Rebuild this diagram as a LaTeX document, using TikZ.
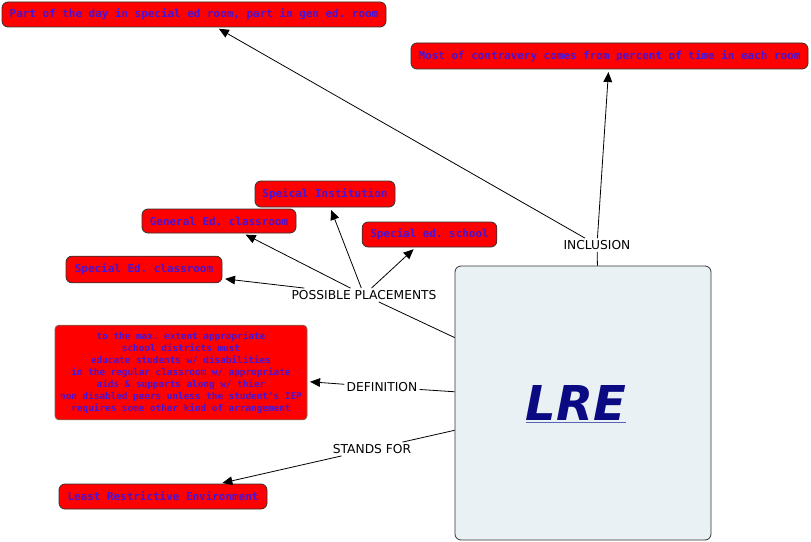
\documentclass[tikz,border=0pt]{standalone}
\usepackage{fontspec}
\setsansfont{DejaVu Sans}
\setmonofont{DejaVu Sans Mono}
\usepackage{xcolor}
\usetikzlibrary{shapes,arrows.meta,positioning,calc}
\definecolor{boxred}{RGB}{255,0,0}
\definecolor{boxtext}{RGB}{70,20,215}
\definecolor{lrefill}{RGB}{234,241,244}
\definecolor{lrenavy}{RGB}{10,10,130}
\definecolor{lreline}{RGB}{90,100,180}
\definecolor{defborder}{RGB}{130,100,80}

\begin{document}
\begin{tikzpicture}[x=0.75pt, y=-0.75pt,
    redbox/.style={rectangle, rounded corners=4.5pt, draw=black!80, fill=boxred, line width=0.6pt,
        text=boxtext, font=\fontsize{8.2}{10}\selectfont\ttfamily\bfseries, inner sep=2pt,
        minimum width=#1, minimum height=18.75pt},
    linklabel/.style={font=\fontsize{9.2}{11}\sffamily, inner sep=1.5pt},
    link/.style={line width=0.6pt},
    arrow/.style={line width=0.6pt, -{Triangle[length=7.5pt,width=6.5pt]}, shorten >=2pt},
]
    \useasboundingbox (0,0) rectangle (811,542);

    % concept
    \node[rectangle, rounded corners=4.5pt, draw=black!80, fill=lrefill, line width=0.6pt,
        minimum width=192pt, minimum height=205.5pt] (lre) at (583,403) {};
    \node[font=\fontsize{36}{40}\sffamily\bfseries\itshape] (lretxt) at (576,404)
        {{\color{lreline}\underline{\color{lrenavy}LRE}}};

    % leaves
    \node[redbox=288pt] (part) at (194,14.5) {Part of the day in special ed room, part in gen ed. room};
    \node[redbox=297.75pt, minimum height=19.5pt] (most) at (609.5,56) {Most of contravery comes from percent of time in each room};
    \node[redbox=105pt, minimum height=19.5pt] (inst) at (325,194) {Speical Institution};
    \node[redbox=115.5pt, minimum height=18pt] (gened) at (219,221) {General Ed. classroom};
    \node[redbox=101pt] (school) at (429.5,234.5) {Special ed. school};
    \node[redbox=117pt, minimum height=20pt] (seclass) at (144,269.5) {Special Ed. classroom};
    \node[redbox=189pt, minimum height=71pt, rounded corners=3pt, draw=defborder, align=center,
        font=\fontsize{7}{8.95}\selectfont\ttfamily\bfseries] (defbox) at (181,372.5)
        {to the max. extent appropriate\\school districts must\\educate students w/ disabilities\\in the regular classroom w/ appropriate\\aids \& supports along w/ thier\\non disabled peers unless the student's IEP\\requires some other kind of arrangement};
    \node[redbox=156pt] (env) at (163,496.5) {Least Restrictive Environment};

    % linking phrases
    \node[linklabel] (incl) at (597,245) {INCLUSION};
    \node[linklabel] (pp) at (364,295) {POSSIBLE PLACEMENTS};
    \node[linklabel] (defn) at (382,387) {DEFINITION};
    \node[linklabel] (stands) at (372,449) {STANDS FOR};

    % connectors
    \draw[link] (lre.84.2) -- (incl);
    \draw[arrow] (incl) -- (most);
    \draw[arrow] (incl) -- (part);

    \draw[link] (lre.153) -- (pp);
    \foreach \t in {seclass,gened,inst,school}
        \draw[arrow] (pp) -- (\t);

    \draw[link] (lre.175.5) -- (defn);
    \draw[arrow] (defn) -- (defbox);

    \draw[link] (lre.192.8) -- (stands);
    \draw[arrow] (stands) -- (env);
\end{tikzpicture}
\end{document}
